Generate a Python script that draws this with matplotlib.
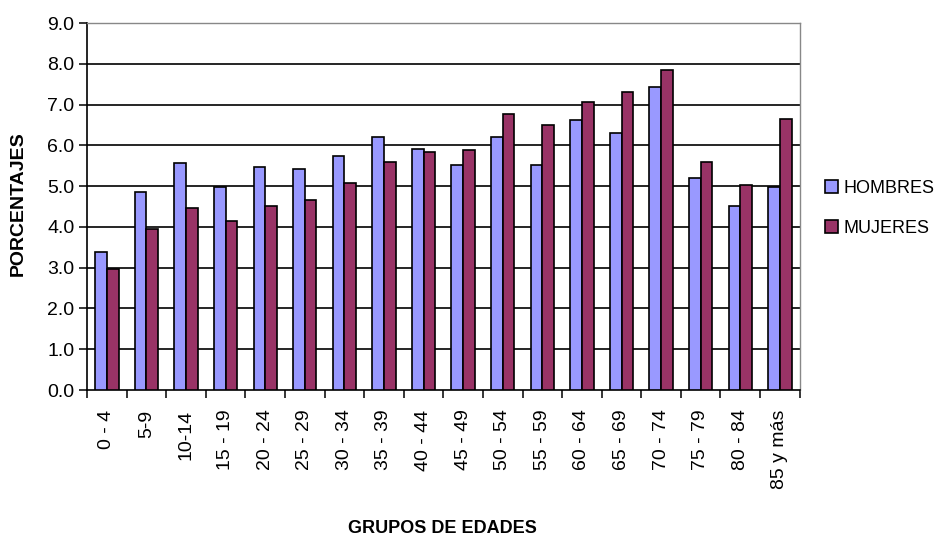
import matplotlib.pyplot as plt
import numpy as np

# Datos
grupos = ["0 - 4", "5-9", "10-14", "15 - 19", "20 - 24", "25 - 29", "30 - 34",
          "35 - 39", "40 - 44", "45 - 49", "50 - 54", "55 - 59", "60 - 64",
          "65 - 69", "70 - 74", "75 - 79", "80 - 84", "85 y más"]
hombres = [3.39, 4.85, 5.56, 4.98, 5.46, 5.41, 5.74, 6.21, 5.92, 5.51,
           6.21, 5.51, 6.63, 6.31, 7.43, 5.21, 4.51, 4.98]
mujeres = [2.96, 3.95, 4.47, 4.14, 4.52, 4.66, 5.08, 5.60, 5.83, 5.88,
           6.77, 6.50, 7.06, 7.30, 7.86, 5.60, 5.04, 6.64]

plt.rcParams["font.family"] = ["Liberation Sans", "DejaVu Sans"]

fig = plt.figure(figsize=(9.43, 5.37), dpi=100)
ax = fig.add_axes([0.0923, 0.2737, 0.7557, 0.6833])

x = np.arange(len(grupos))
w = 0.295
ax.bar(x - w / 2, hombres, w, color="#9999FF", edgecolor="black", linewidth=1.2,
       label="HOMBRES", zorder=3)
ax.bar(x + w / 2, mujeres, w, color="#993366", edgecolor="black", linewidth=1.2,
       label="MUJERES", zorder=3)

ax.set_xlim(-0.5, len(grupos) - 0.5)
ax.set_ylim(0, 9)
ax.set_yticks(np.arange(0, 9.5, 1.0))
ax.set_yticklabels([f"{v:.1f}" for v in np.arange(0, 9.5, 1.0)], fontsize=14)
for v in range(1, 9):
    ax.axhline(v, color="black", linewidth=1.2, zorder=1)

# ticks del eje x entre categorias, etiquetas centradas
ax.set_xticks(np.arange(-0.5, len(grupos), 1.0))
ax.set_xticklabels([])
ax.set_xticks(x, minor=True)
ax.set_xticklabels(grupos, minor=True, rotation=90, fontsize=14)
ax.tick_params(axis="x", which="minor", length=0, pad=14)
ax.tick_params(axis="x", which="major", length=6, width=1.1, direction="out")
ax.tick_params(axis="y", length=6, width=1.1, direction="out", pad=3)

for s in ["left", "bottom"]:
    ax.spines[s].set_color("black")
    ax.spines[s].set_linewidth(1.2)
for s in ["top", "right"]:
    ax.spines[s].set_color("#888888")
    ax.spines[s].set_linewidth(1.0)

fig.text(0.019, 0.62, "PORCENTAJES", fontsize=14, fontweight="bold",
         rotation=90, ha="center", va="center")
fig.text(0.469, 0.015, "GRUPOS DE EDADES", fontsize=13, fontweight="bold",
         ha="center", va="center")

fig.legend(loc="center left", bbox_to_anchor=(0.858, 0.612), frameon=False,
           fontsize=13, handlelength=0.7, handleheight=0.7, handletextpad=0.3,
           labelspacing=1.3)

fig.savefig("out.png", dpi=100)
